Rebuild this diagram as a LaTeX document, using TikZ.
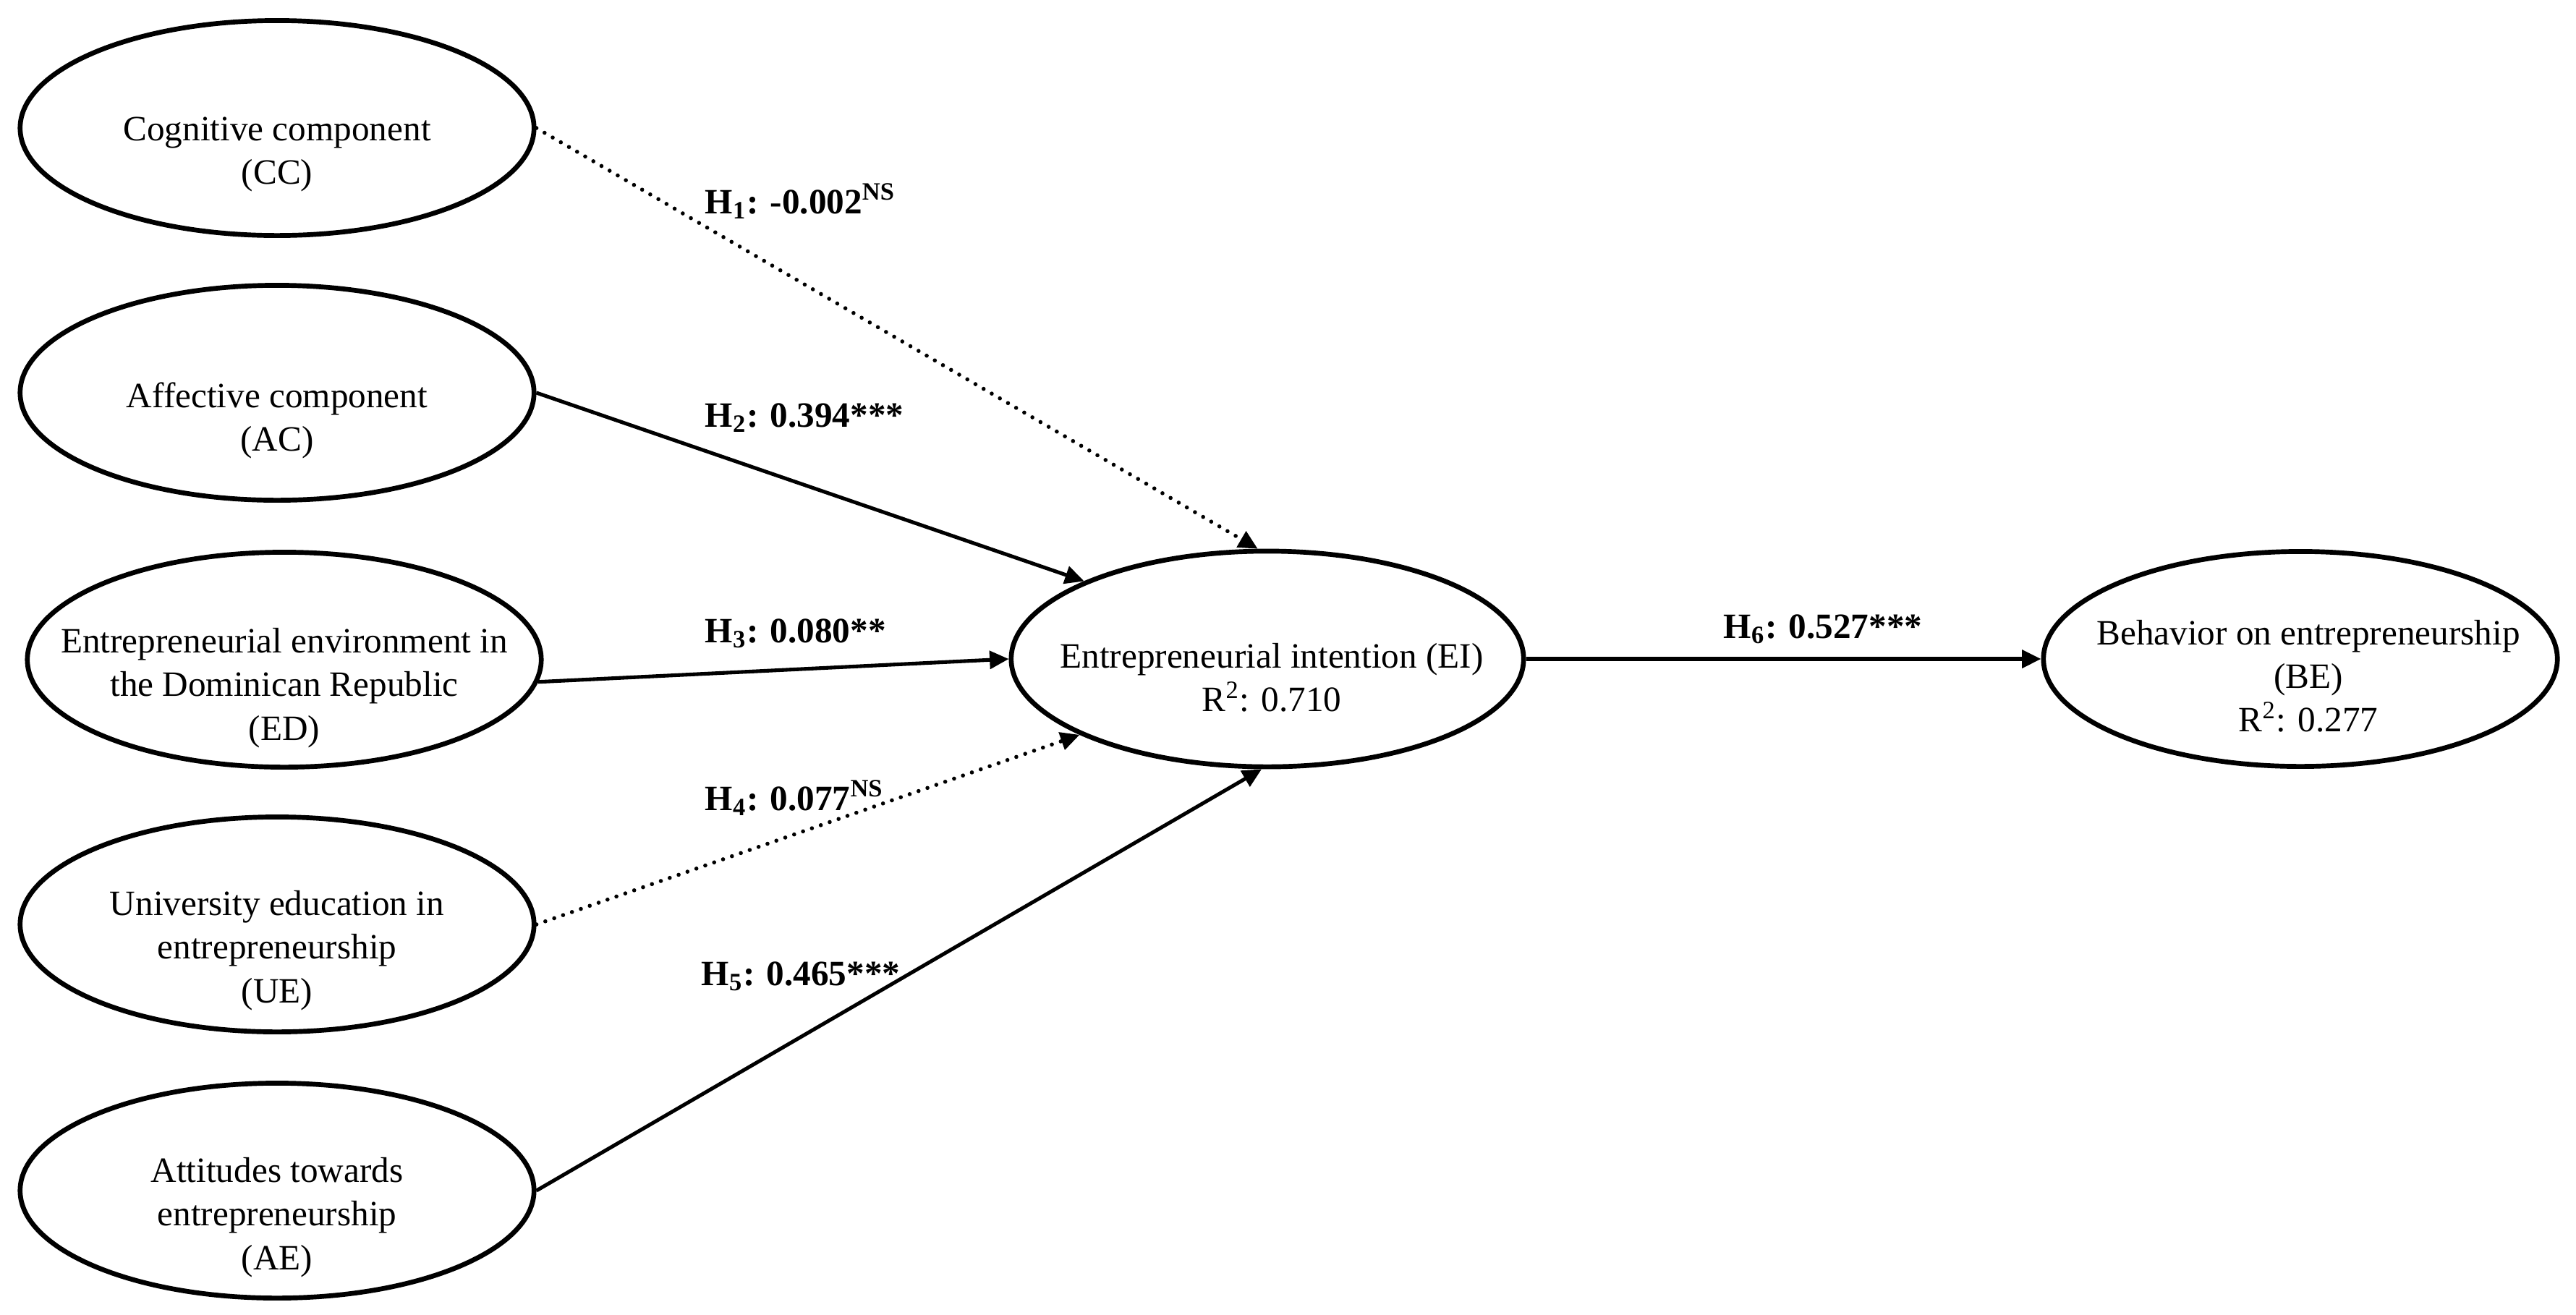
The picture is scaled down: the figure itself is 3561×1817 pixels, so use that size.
\documentclass[tikz,border=0pt]{standalone}
\usepackage{fontspec}
\setmainfont{Liberation Serif}
\usetikzlibrary{shapes.geometric,arrows.meta}
\begin{document}
\begin{tikzpicture}[x=0.01cm,y=-0.01cm,
  lat/.style={draw,ellipse,line width=1.9pt,inner sep=0pt,minimum width=7.1cm,minimum height=2.97cm},
  txt/.style={align=center,inner sep=0pt,font=\fontsize{14}{17.1}\selectfont},
  hlab/.style={anchor=base west,inner sep=0pt,font=\fontsize{14}{17.1}\selectfont\bfseries},
  conn/.style={line width=1.45pt,-{Triangle[length=7.5pt,width=7pt]}},
  nsconn/.style={conn,line width=1.6pt,dash pattern=on 0pt off 3.7pt,line cap=round}]
\useasboundingbox (0,0) rectangle (3561,1817);
\fill[white] (0,0) rectangle (3561,1817);
% latent variables
\node[lat] (CC) at (383,177) {};
\node[lat] (AC) at (383,543) {};
\node[lat] (ED) at (393,912) {};
\node[lat] (UE) at (383,1278) {};
\node[lat] (AE) at (383,1646) {};
\node[lat,minimum width=7.08cm,minimum height=2.98cm] (EI) at (1752,911) {};
\node[lat] (BE) at (3180,911) {};
% texts
\node[txt] (tCC) at (383,213) {Cognitive component\\(CC)};
\node[txt] (tAC) at (383,581) {Affective component\\(AC)};
\node[txt] (tED) at (393,951) {Entrepreneurial environment in\\the Dominican Republic\\(ED)};
\node[txt] (tUE) at (383,1314) {University education in\\entrepreneurship\\(UE)};
\node[txt] (tAE) at (383,1683) {Attitudes towards\\entrepreneurship\\(AE)};
\node[txt] (tEI) at (1758,937) {Entrepreneurial intention (EI)\\R\textsuperscript{2}: 0.710};
\node[txt] (tBE) at (3191,935) {Behavior on entrepreneurship\\(BE)\\R\textsuperscript{2}: 0.277};
% paths
\draw[nsconn] (CC.east) -- (EI.95);
\draw[conn] (AC.east) -- (EI.157);
\draw[conn] (ED.-5) -- (EI.west);
\draw[nsconn] (UE.east) -- (EI.202);
\draw[conn] (AE.east) -- (EI.267);
\draw[conn] (EI.east) -- (BE.west);
% coefficients
\node[hlab] (h1) at (974,295) {H\textsubscript{1}: -0.002\textsuperscript{NS}};
\node[hlab] (h2) at (974,590) {H\textsubscript{2}: 0.394***};
\node[hlab] (h3) at (974,888) {H\textsubscript{3}: 0.080**};
\node[hlab] (h4) at (974,1120) {H\textsubscript{4}: 0.077\textsuperscript{NS}};
\node[hlab] (h5) at (969,1362) {H\textsubscript{5}: 0.465***};
\node[hlab] (h6) at (2382,882) {H\textsubscript{6}: 0.527***};
\end{tikzpicture}
\end{document}
